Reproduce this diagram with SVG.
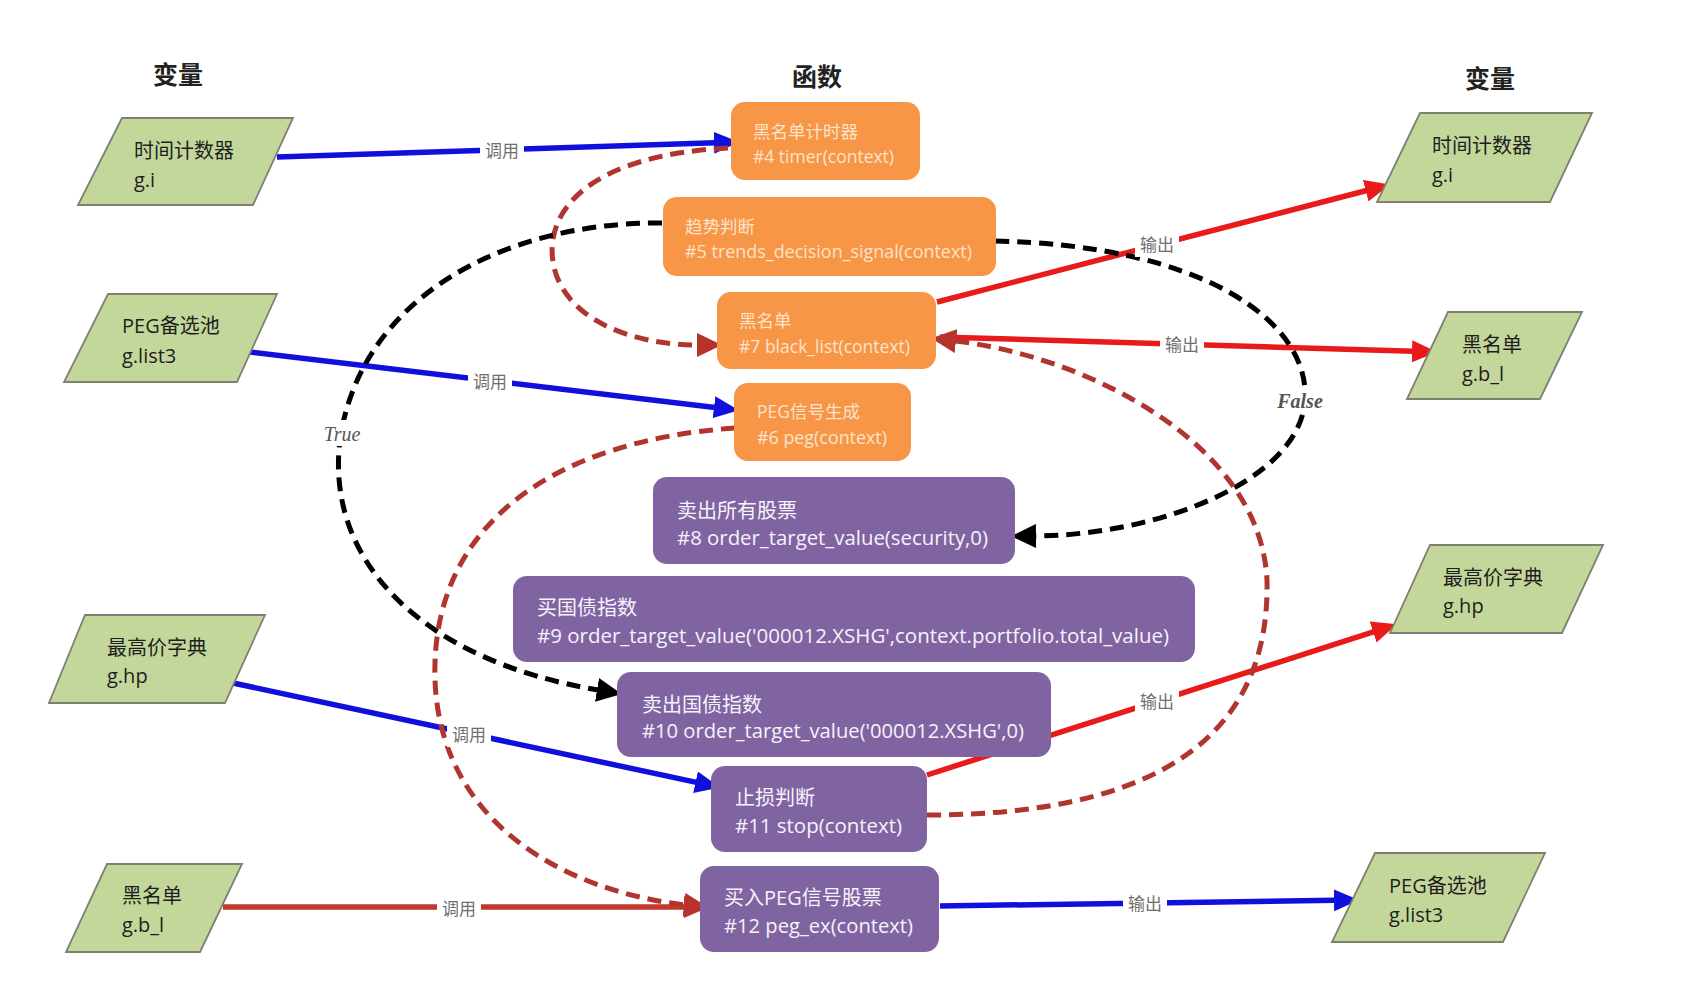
<svg xmlns="http://www.w3.org/2000/svg" width="1692" height="1000" viewBox="0 0 1692 1000">
<style>
.title{font-family:"Noto Sans CJK SC","Noto Sans",sans-serif;font-size:25px;font-weight:bold;fill:#222;text-anchor:middle}
.var{fill:#c4d79b;stroke:#7f7f72;stroke-width:1.8}
.vt{font-family:"Open Sans","Noto Sans CJK SC",sans-serif;font-size:20px;fill:#1e1e1e}
.fo{fill:#f79646}
.fp{fill:#8064a2}
.ot{font-family:"Open Sans","Noto Sans CJK SC",sans-serif;font-size:17.5px;fill:#fde3cc}
.pt{font-family:"Open Sans","Noto Sans CJK SC",sans-serif;font-size:20px;fill:#f6f2fa}
.ln{fill:none;stroke-width:5.5}
.blue{stroke:#1010dd}
.red{stroke:#e81a1a}
.dred{stroke:#c0392b}
.dash{fill:none;stroke-width:5;stroke-dasharray:14 8}
.dk{stroke:#000}
.dr{stroke:#b0352f}
.lbg{fill:#fff}
.lt{font-family:"Noto Sans CJK SC","Noto Sans",sans-serif;font-size:17px;fill:#707070;text-anchor:middle}
.tf{font-family:"Liberation Serif","DejaVu Serif",serif;font-size:20px;font-style:italic;fill:#555;text-anchor:middle}
</style>
<defs>
<marker id="aBlue" markerUnits="userSpaceOnUse" markerWidth="26" markerHeight="22" refX="1" refY="11" orient="auto"><path d="M0,0 L25,11 L0,22 z" fill="#1010dd"/></marker>
<marker id="aRed" markerUnits="userSpaceOnUse" markerWidth="26" markerHeight="22" refX="1" refY="11" orient="auto"><path d="M0,0 L25,11 L0,22 z" fill="#e81a1a"/></marker>
<marker id="aDRed" markerUnits="userSpaceOnUse" markerWidth="26" markerHeight="22" refX="1" refY="11" orient="auto"><path d="M0,0 L25,11 L0,22 z" fill="#c0392b"/></marker>
<marker id="aDash" markerUnits="userSpaceOnUse" markerWidth="26" markerHeight="24" refX="1" refY="12" orient="auto"><path d="M0,0 L25,12 L0,24 z" fill="#b8322c"/></marker>
<marker id="aBlack" markerUnits="userSpaceOnUse" markerWidth="26" markerHeight="24" refX="1" refY="12" orient="auto"><path d="M0,0 L25,12 L0,24 z" fill="#000"/></marker>
</defs>
<rect width="1692" height="1000" fill="#fff"/>

<text class="title" x="178" y="84">变量</text>
<text class="title" x="817" y="86">函数</text>
<text class="title" x="1490" y="88">变量</text>

<g id="connectors">
<path class="ln blue" d="M277,157 L715,142.7" marker-end="url(#aBlue)"/>
<path class="ln blue" d="M250,352 L715,407.4" marker-end="url(#aBlue)"/>
<path class="ln blue" d="M233,683 L696.5,782.4" marker-end="url(#aBlue)"/>
<path class="ln dred" d="M223,907 L685,907" marker-end="url(#aDRed)"/>
<path class="ln blue" d="M940,906 L1335,900.3" marker-end="url(#aBlue)"/>
<path class="ln red" d="M937,302 L1366.7,190.5" marker-end="url(#aRed)"/>
<path class="ln red" d="M940,337 L1413,351.3" marker-end="url(#aRed)"/>
<path class="ln red" d="M927,775 L1374.1,631.7" marker-end="url(#aRed)"/>

<path class="dash dr" d="M728,148 C590,155 545,210 553,262 C562,318 630,345 698,345" marker-end="url(#aDash)"/>
<path class="dash dk" d="M662,223 C500,222 360,300 340,440 C325,560 420,660 598,690" marker-end="url(#aBlack)"/>
<path class="dash dk" d="M995,241 C1200,245 1310,320 1305,400 C1300,480 1160,535 1035,536" marker-end="url(#aBlack)"/>
<path class="dash dr" d="M735,428 C560,440 430,520 435,680 C440,820 560,890 685,905" marker-end="url(#aDash)"/>
<path class="dash dr" d="M927,815 C1180,815 1270,720 1267,580 C1260,440 1080,355 955,341" marker-end="url(#aDash)"/>

<rect class="lbg" x="480" y="139" width="44" height="24"/><text class="lt" x="502" y="157">调用</text>
<rect class="lbg" x="468" y="370" width="44" height="24"/><text class="lt" x="490" y="388">调用</text>
<rect class="lbg" x="447" y="723" width="44" height="24"/><text class="lt" x="469" y="741">调用</text>
<rect class="lbg" x="437" y="897" width="44" height="24"/><text class="lt" x="459" y="915">调用</text>
<rect class="lbg" x="1123" y="892" width="44" height="24"/><text class="lt" x="1145" y="910">输出</text>
<rect class="lbg" x="1135" y="233" width="44" height="24"/><text class="lt" x="1157" y="251">输出</text>
<rect class="lbg" x="1160" y="333" width="44" height="24"/><text class="lt" x="1182" y="351">输出</text>
<rect class="lbg" x="1135" y="690" width="44" height="24"/><text class="lt" x="1157" y="708">输出</text>
<rect class="lbg" x="320" y="420" width="44" height="26"/><text class="tf" x="342" y="441">True</text>
<rect class="lbg" x="1272" y="388" width="56" height="26"/><text class="tf" x="1300" y="408" font-weight="bold">False</text>
</g>

<g id="var-timer-left"><polygon class="var" points="122,118 293,118 253,205 78,205"/><text class="vt" x="134" y="158">时间计数器</text><text class="vt" x="134" y="187">g.i</text></g>
<g id="var-peg-left"><polygon class="var" points="108,294 277,294 237,382 64,382"/><text class="vt" x="122" y="333">PEG备选池</text><text class="vt" x="122" y="363">g.list3</text></g>
<g id="var-hp-left"><polygon class="var" points="85,615 265,615 225,703 49,703"/><text class="vt" x="107" y="655">最高价字典</text><text class="vt" x="107" y="683">g.hp</text></g>
<g id="var-bl-left"><polygon class="var" points="107,864 242,864 200,952 66,952"/><text class="vt" x="122" y="903">黑名单</text><text class="vt" x="122" y="932">g.b_l</text></g>

<g id="var-timer-right"><polygon class="var" points="1420,113 1592,113 1550,202 1377,202"/><text class="vt" x="1432" y="153">时间计数器</text><text class="vt" x="1432" y="182">g.i</text></g>
<g id="var-bl-right"><polygon class="var" points="1448,312 1582,312 1540,399 1407,399"/><text class="vt" x="1462" y="352">黑名单</text><text class="vt" x="1462" y="381">g.b_l</text></g>
<g id="var-hp-right"><polygon class="var" points="1430,545 1603,545 1562,633 1390,633"/><text class="vt" x="1443" y="585">最高价字典</text><text class="vt" x="1443" y="613">g.hp</text></g>
<g id="var-peg-right"><polygon class="var" points="1375,853 1545,853 1503,942 1332,942"/><text class="vt" x="1389" y="893">PEG备选池</text><text class="vt" x="1389" y="922">g.list3</text></g>

<g id="fn-timer"><rect class="fo" x="731" y="102" width="189" height="78" rx="14"/><text class="ot" x="753" y="138">黑名单计时器</text><text class="ot" x="753" y="163" textLength="141" lengthAdjust="spacingAndGlyphs">#4 timer(context)</text></g>
<g id="fn-trends"><rect class="fo" x="663" y="197" width="333" height="79" rx="14"/><text class="ot" x="685" y="233">趋势判断</text><text class="ot" x="685" y="258" textLength="287" lengthAdjust="spacingAndGlyphs">#5 trends_decision_signal(context)</text></g>
<g id="fn-blacklist"><rect class="fo" x="717" y="292" width="219" height="77" rx="14"/><text class="ot" x="739" y="327">黑名单</text><text class="ot" x="739" y="353" textLength="171" lengthAdjust="spacingAndGlyphs">#7 black_list(context)</text></g>
<g id="fn-peg"><rect class="fo" x="734" y="383" width="177" height="78" rx="14"/><text class="ot" x="757" y="418">PEG信号生成</text><text class="ot" x="757" y="444" textLength="130" lengthAdjust="spacingAndGlyphs">#6 peg(context)</text></g>

<g id="fn-sellall"><rect class="fp" x="653" y="477" width="362" height="87" rx="14"/><text class="pt" x="677" y="518">卖出所有股票</text><text class="pt" x="677" y="545" textLength="311" lengthAdjust="spacingAndGlyphs">#8 order_target_value(security,0)</text></g>
<g id="fn-buybond"><rect class="fp" x="513" y="576" width="682" height="86" rx="14"/><text class="pt" x="537" y="615">买国债指数</text><text class="pt" x="537" y="643" textLength="632" lengthAdjust="spacingAndGlyphs">#9 order_target_value('000012.XSHG',context.portfolio.total_value)</text></g>
<g id="fn-sellbond"><rect class="fp" x="617" y="672" width="434" height="85" rx="14"/><text class="pt" x="642" y="712">卖出国债指数</text><text class="pt" x="642" y="738" textLength="382" lengthAdjust="spacingAndGlyphs">#10 order_target_value('000012.XSHG',0)</text></g>
<g id="fn-stop"><rect class="fp" x="711" y="766" width="216" height="86" rx="14"/><text class="pt" x="735" y="805">止损判断</text><text class="pt" x="735" y="833" textLength="167" lengthAdjust="spacingAndGlyphs">#11 stop(context)</text></g>
<g id="fn-pegex"><rect class="fp" x="700" y="866" width="239" height="86" rx="14"/><text class="pt" x="724" y="905">买入PEG信号股票</text><text class="pt" x="724" y="933" textLength="189" lengthAdjust="spacingAndGlyphs">#12 peg_ex(context)</text></g>
</svg>
